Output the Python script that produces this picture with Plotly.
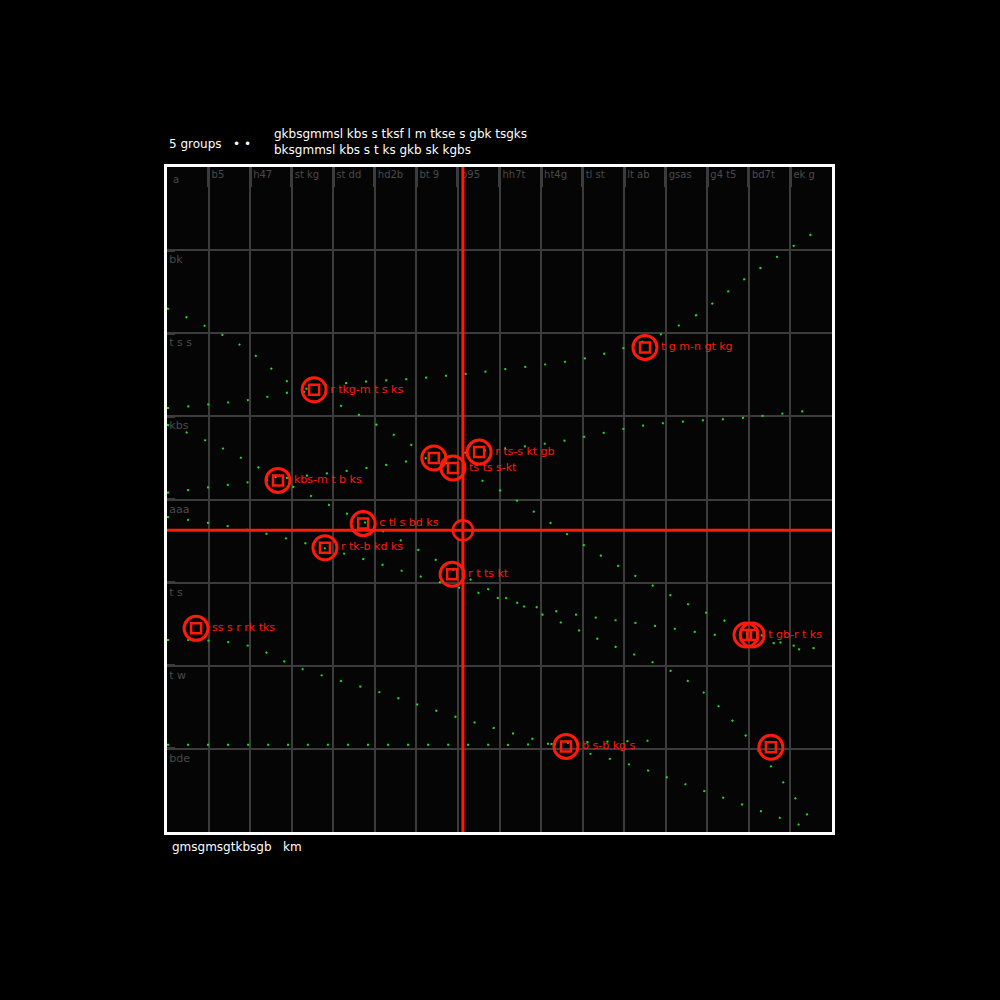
import plotly.graph_objects as go

# ---- data ----
x_ticks = list(range(16))
x_tick_labels = ["a", "b5", "h47", "st kg", "st dd", "hd2b", "bt 9", "b95", "hh7t", "ht4g", "tl st", "lt ab", "gsas", "g4 t5", "bd7t", "ek g"]
y_ticks = [1, 2, 3, 4, 5, 6, 7]
y_tick_labels = ["bde", "t w", "t s", "aaa", "kbs", "t s s", "bk"]

curve_x = [
    [0, 2.0, 3.92, 6.09, 8.01, 10.42, 12.34, 14.03, 15.59],
    [0, 1.76, 3.2, 4.26, 6.09, 8.01, 10.42, 12.83, 15.59],
    [0, 2.0, 4.40, 6.81, 9.22, 11.62, 14.03, 15.59],
    [0, 1.28, 3.2, 5.61, 8.01, 10.42, 12.83, 15.59],
    [0, 2.0, 4.40, 6.81, 9.22, 11.62, 14.03, 15.59],
    [0, 1.88, 3.2, 5.12, 7.05, 9.09, 11.14, 12.83, 15.59],
    [0, 3.2, 7.05, 8.5, 10.0, 12.0],
]
curve_y = [
    [5.10, 5.20, 5.38, 5.46, 5.56, 5.74, 6.10, 6.70, 7.22],
    [6.30, 5.86, 5.32, 5.11, 4.60, 4.11, 3.33, 2.67, 2.13],
    [4.08, 4.21, 4.35, 4.54, 4.68, 4.90, 4.99, 5.08],
    [4.90, 4.63, 4.11, 3.51, 2.85, 2.31, 1.71, 0.08],
    [3.79, 3.63, 3.33, 2.97, 2.67, 2.49, 2.31, 2.21],
    [2.31, 2.25, 1.97, 1.68, 1.37, 1.08, 0.81, 0.51, 0.02],
    [1.05, 1.05, 1.05, 1.05, 1.08, 1.10],
]

pt_x = [3.54, 2.67, 6.42, 6.88, 7.51, 11.50, 4.72, 3.80, 6.86, 0.70, 13.93, 14.08, 9.60, 14.53]
pt_y = [5.32, 4.23, 4.50, 4.38, 4.57, 5.83, 3.71, 3.42, 3.10, 2.45, 2.37, 2.37, 1.03, 1.02]
pt_labels = ["r tkg-m t s ks", "kbs-m t b ks", "", "ts ts s-kt", "r ts-s kt gb", "t g m-n gt kg", "c tl s bd ks", "r tk-b kd ks", "r t ts kt", "ss s r rk tks", "", "t gb-r t ks", "b s-b kg s", ""]

cross_x = 7.12
cross_y = 3.63

# ---- figure ----
fig = go.Figure()

for cx, cy in zip(curve_x, curve_y):
    fig.add_trace(go.Scatter(
        x=cx, y=cy, mode="lines",
        line=dict(color="#22dd22", width=2, dash="2px,18px", shape="spline"),
        hoverinfo="skip", showlegend=False))

fig.add_shape(type="line", xref="x", yref="paper", x0=cross_x, x1=cross_x, y0=0, y1=1,
              line=dict(color="#ff1a0a", width=3))
fig.add_shape(type="line", xref="paper", yref="y", x0=0, x1=1, y0=cross_y, y1=cross_y,
              line=dict(color="#ff1a0a", width=3))

fig.add_trace(go.Scatter(
    x=pt_x, y=pt_y, mode="markers+text", text=pt_labels, textposition="middle right",
    textfont=dict(color="#ff1a0a", size=11, family="DejaVu Sans"),
    marker=dict(symbol="circle-open", size=24, color="#ff1a0a", line=dict(width=3)),
    hoverinfo="skip", showlegend=False))
fig.add_trace(go.Scatter(
    x=pt_x, y=pt_y, mode="markers",
    marker=dict(symbol="square-open", size=10, color="#ff1a0a", line=dict(width=2.5)),
    hoverinfo="skip", showlegend=False))
fig.add_trace(go.Scatter(
    x=[cross_x], y=[cross_y], mode="markers",
    marker=dict(symbol="circle", size=20, color="#000000", line=dict(width=2.5, color="#ff1a0a")),
    hoverinfo="skip", showlegend=False))

fig.update_xaxes(
    range=[0, 16], side="top", tickvals=x_ticks, ticktext=x_tick_labels,
    ticklabelposition="inside right", ticks="inside", ticklen=20, tickwidth=3, tickcolor="#3c3c3c",
    tickfont=dict(color="#4a4a4a", size=10, family="DejaVu Sans"),
    showgrid=True, gridcolor="#3c3c3c", gridwidth=2, zeroline=False,
    showline=True, mirror=True, linecolor="#ffffff", linewidth=3)
fig.update_yaxes(
    range=[0, 8], tickvals=y_ticks, ticktext=y_tick_labels,
    ticklabelposition="inside bottom", ticks="inside", ticklen=8, tickwidth=3, tickcolor="#3c3c3c",
    tickfont=dict(color="#4a4a4a", size=11, family="DejaVu Sans"),
    showgrid=True, gridcolor="#3c3c3c", gridwidth=2, zeroline=False,
    showline=True, mirror=True, linecolor="#ffffff", linewidth=3)

# first x tick label (hidden by plotly at the range edge)
fig.add_annotation(xref="x", yref="paper", x=x_ticks[0], y=1, xanchor="left", yanchor="top",
                   xshift=4, yshift=-5, text=x_tick_labels[0], showarrow=False,
                   font=dict(color="#4a4a4a", size=10, family="DejaVu Sans"))

fig.add_annotation(xref="paper", yref="paper", x=0, y=1, xanchor="left", yanchor="bottom", yshift=14,
                   text="5 groups   \u2022 \u2022", showarrow=False,
                   font=dict(color="#ffffff", size=12, family="DejaVu Sans"))
fig.add_annotation(xref="paper", yref="paper", x=0.158, y=1, xanchor="left", yanchor="bottom", yshift=8,
                   text="gkbsgmmsl kbs s tksf l m tkse s gbk tsgks<br>bksgmmsl kbs s t ks gkb sk kgbs",
                   showarrow=False, align="left",
                   font=dict(color="#ffffff", size=12, family="DejaVu Sans"))
fig.add_annotation(xref="paper", yref="paper", x=0.005, y=0, xanchor="left", yanchor="top", yshift=-6,
                   text="gmsgmsgtkbsgb   km", showarrow=False,
                   font=dict(color="#ffffff", size=12, family="DejaVu Sans"))

fig.update_layout(
    width=1000, height=1000,
    margin=dict(l=167, r=168, t=167, b=168),
    paper_bgcolor="#000000", plot_bgcolor="#050505",
    showlegend=False)

fig.write_html(
    "out.html",
    config={"displayModeBar": False},
    post_script="document.body.style.margin='0';document.body.style.background='#000000';document.body.style.overflow='hidden';")
